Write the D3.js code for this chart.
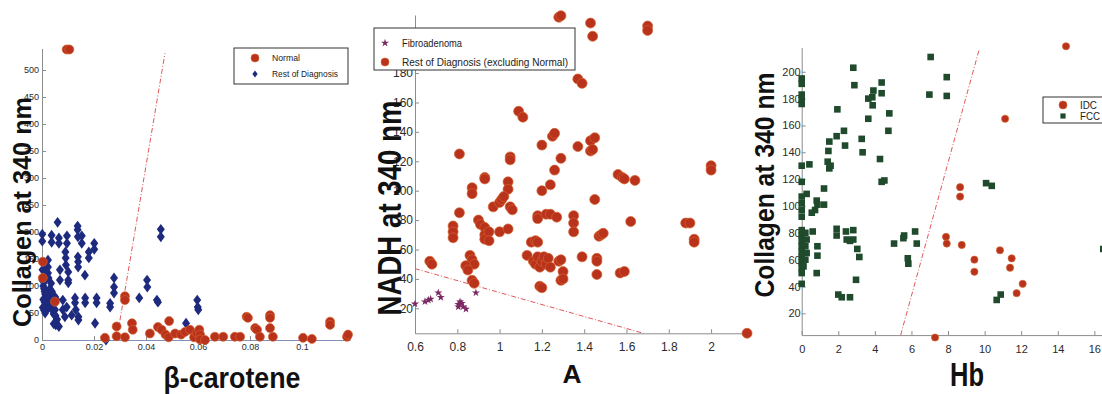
<!DOCTYPE html>
<html><head><meta charset="utf-8">
<script src="https://cdn.jsdelivr.net/npm/d3@7/dist/d3.min.js"></script>
<style>
body{margin:0;background:#fff;}
svg{display:block;}
text{font-family:Arial,"Liberation Sans",Helvetica,sans-serif;}
</style>
</head><body>
<svg id="c" width="1102" height="394"></svg>
<script>
// ---------- Panel 1: beta-carotene vs Collagen ----------
const p1XTicks = [0, 0.02, 0.04, 0.06, 0.08, 0.1];
const p1YTicks = [0, 50, 100, 150, 200, 250, 300, 350, 400, 450, 500];
const p1Normal = [[0.0095,538],[0.0105,538],[0.0003,145],[0.0003,115],[0.005,71],[0.0242,4],[0.0287,25],[0.0287,7],
  [0.0319,81],[0.0319,74],[0.0319,5],[0.0346,31],[0.0349,19],[0.0415,12],[0.0446,24],[0.046,19],[0.0475,10],
  [0.0489,35],[0.0487,5],[0.0512,12],[0.0535,10],[0.055,15],[0.0569,19],[0.0585,5],[0.0595,13],[0.0605,19],
  [0.0608,10],[0.0608,1],[0.0627,0],[0.0665,6],[0.0697,6],[0.0742,6],[0.0762,6],[0.0787,43],[0.0792,41],
  [0.082,22],[0.0827,19],[0.0838,6],[0.0877,46],[0.0877,41],[0.0877,22],[0.0888,6],[0.1004,4],[0.1038,2],
  [0.1108,34],[0.1108,28],[0.1173,6],[0.1177,10]];
const p1Rest = [[0.006,218],[0.0001,196],[0.0001,183],[0.0037,194],[0.0037,181],[0.0065,189],[0.0065,179],
  [0.0096,193],[0.0096,179],[0.0137,211],[0.0137,204],[0.0138,191],[0.0153,193],[0.0153,179],[0.0201,179],
  [0.0201,168],[0.018,163],[0.018,152],[0.009,163],[0.0091,152],[0.0092,139],[0.0138,154],[0.0139,145],
  [0.0139,135],[0.0165,120],[0.0023,148],[0.0023,135],[0.0023,124],[0.0069,130],[0.0069,111],[0.0101,126],
  [0.0101,111],[0.0101,106],[0.005,80],[0.005,56],[0.008,74],[0.008,56],[0.0095,61],[0.0127,78],[0.0127,69],
  [0.013,56],[0.014,43],[0.014,37],[0.0166,78],[0.0166,69],[0.021,78],[0.021,69],[0.0204,31],[0.0053,28],
  [0.0114,46],[0.0088,43],[0.0457,205],[0.0457,191],[0.0277,115],[0.0277,98],[0.0277,87],[0.0404,111],
  [0.0405,98],[0.0374,78],[0.0442,74],[0.0446,70],[0.0597,74],[0.0599,61],[0.0601,56],[0.0554,31],
  [0.0262,61],[0.0262,68],[0.0246,0],
  [0.0002,110],[0.0005,100],[0.0008,95],[0.001,90],[0.0012,85],[0.0015,80],[0.0005,75],[0.001,70],
  [0.0018,72],[0.002,65],[0.0025,60],[0.0008,55],[0.0012,50],[0.0003,60],[0.0022,88],[0.0028,78],
  [0.003,70],[0.0035,62],[0.004,55],[0.0045,48],[0.003,95],[0.0035,105],[0.0015,112],[0.0042,82],
  [0.0048,68],[0.0052,45],[0.0058,38],[0.0045,30],[0.0065,25],[0.0002,130],[0.0008,140],[0.0012,125],
  [0.0025,115],[0.0038,90],[0.0055,75]];
const p1Boundary = [[0.0287,0],[0.0473,531]];

// ---------- Panel 2: A vs NADH ----------
const p2XTicks = [0.6, 0.8, 1, 1.2, 1.4, 1.6, 1.8, 2];
const p2YTicks = [20, 40, 60, 80, 100, 120, 140, 160, 180];
const p2Fibro = [[0.6,23],[0.647,24.5],[0.663,25.6],[0.674,26.3],[0.71,30.6],[0.722,27.5],[0.805,22.7],
  [0.813,24.5],[0.821,23.4],[0.828,21.1],[0.841,19.5],[0.805,21],[0.888,30.6]];
const p2Rest = [[1.28,218],[1.29,219],[1.43,214],[1.44,205],[1.70,212],[1.70,209],[1.37,176],[1.39,173],
  [1.09,154],[1.11,150],[1.20,131],[1.25,137],[1.26,139],[1.37,130],[1.43,134],[1.45,136],[1.43,127],[1.44,128],
  [0.81,125],[1.05,123],[1.05,121],[1.29,122],[1.26,114],[2.0,117],[2.0,114],[0.93,109],[0.93,108],
  [1.56,111],[1.58,109],[1.59,108],[1.64,107],[1.24,104],[1.04,106],[1.04,101],[0.87,102],[0.87,98],
  [1.20,100],[0.97,89],[1.0,92],[1.01,94],[1.02,96],[1.05,89],[1.06,87],[1.45,94],[0.81,85],[1.18,83],
  [1.18,81],[1.22,84],[1.24,84],[1.27,82],[1.35,83],[1.35,78],[1.35,72],[1.62,79],[1.88,78],[1.90,78],
  [1.92,67],[1.92,65],[0.78,76],[0.78,72],[0.78,68],[0.90,80],[0.91,77],[0.93,75],[0.93,70],[0.93,67],
  [0.95,72],[0.95,66],[1.0,72],[1.04,74],[1.47,69],[1.48,70],[1.49,71],[1.15,65],[1.17,66],[1.18,65],
  [0.86,56],[0.87,53],[0.88,50],[0.84,49],[0.85,46],[0.67,52],[0.68,50],[0.87,39],[0.88,37],[1.13,56],
  [1.16,52],[1.17,50],[1.18,55],[1.19,48],[1.20,52],[1.21,55],[1.22,50],[1.23,54],[1.24,48],[1.28,52],
  [1.29,53],[1.30,45],[1.29,39],[1.30,40],[1.19,35],[1.20,34],[1.39,55],[1.46,54],[1.46,52],[1.46,43],
  [1.57,44],[1.59,45],[2.17,3]];
const p2Boundary = [[0.6,47],[1.68,3]];

// ---------- Panel 3: Hb vs Collagen ----------
const p3XTicks = [0, 2, 4, 6, 8, 10, 12, 14, 16];
const p3YTicks = [20, 40, 60, 80, 100, 120, 140, 160, 180, 200];
const p3IDC = [[14.45,219],[11.12,165],[8.66,114],[8.66,107],[7.89,77],[7.93,72],[8.75,71],[9.44,60],
  [9.44,51],[10.84,67],[11.48,61],[11.39,54],[12.08,42],[11.75,35],[7.29,2]];
const p3FCC = [[7.05,211],[6.98,183],[7.93,182],[7.93,196],[2.82,203],[2.88,190],[4.37,192],[3.92,186],
  [3.86,181],[3.64,180],[3.88,175],[4.37,184],[3.64,165],[4.79,169],[4.74,156],[1.95,172],[2.31,156],
  [1.91,152],[1.51,148],[1.46,141],[1.42,133],[1.51,128],[1.58,130],[2.37,145],[3.28,150],[3.33,140],
  [4.28,135],[4.37,118],[4.52,119],[0,195],[0,191],[0,183],[0,179],[0,176],[0,130],[0.42,131],[0,118],
  [0.27,109],[0,107],[0,102],[0,97],[0,92],[1.22,113],[1.22,101],[0.82,104],[0.86,101],[0.73,97],[0.55,95],
  [0.6,81],[0,82],[0,78],[0,74],[0,70],[0,66],[0,62],[0,58],[0,54],[0,50],[0.2,80],[0.27,75],[0.2,70],
  [0.27,65],[0.2,60],[0.1,55],[0.86,70],[0.86,63],[0.82,50],[1.91,83],[1.91,78],[2.42,81],[2.46,75],
  [2.64,74],[2.82,82],[2.82,75],[3.04,68],[3.15,62],[2.97,45],[2.0,34],[2.19,32],[2.64,32],[0,42],
  [5.05,72],[5.56,76],[5.6,78],[6.2,81],[6.29,72],[5.8,61],[5.83,57],[10.08,117],[10.39,115],
  [10.66,30],[10.88,34],[16.49,68]];
const p3Boundary = [[5.41,3.8],[9.71,217]];

// ---------- drawing ----------
const RED = "#b8321c", RED_EDGE = "#d4622f", BLUE = "#1d2a7e", GREEN = "#1f4a2c", PURPLE = "#7a2862";
const svg = d3.select("#c");
svg.append("rect").attr("width",1102).attr("height",394).attr("fill","#fff");

const diamond = "M0,-5.4L4,0L0,5.4L-4,0Z";
const star = d3.symbol(d3.symbolStar).size(20)();
const square = "M-3.3,-3.3H3.3V3.3H-3.3Z";

function drawPanel(c) {
  const x = d3.scaleLinear().domain(c.xDomain).range(c.xRange);
  const y = d3.scaleLinear().domain(c.yDomain).range(c.yRange);
  const g = svg.append("g");
  const xa = g.append("g").attr("transform", `translate(0,${c.yRange[0]})`)
    .call(d3.axisBottom(x).tickValues(c.xTicks).tickFormat(d => String(d))
      .tickSizeInner(-4).tickSizeOuter(0).tickPadding(c.xPad));
  const ya = g.append("g").attr("transform", `translate(${c.xRange[0]},0)`)
    .call(d3.axisLeft(y).tickValues(c.yTicks).tickFormat(d => String(d))
      .tickSizeInner(-4).tickSizeOuter(0).tickPadding(c.yPad));
  [xa, ya].forEach(a => {
    a.select(".domain").attr("stroke", "#8c8c8c");
    a.selectAll(".tick line").attr("stroke", "#8c8c8c");
    a.selectAll("text").attr("fill", "#2b2b2b").style("font-size", c.tickFont + "px");
  });
  xa.select(".domain").attr("stroke", c.xAxisColor || "#8c8c8c");
  // decision boundary
  g.append("path").attr("d", d3.line().x(d => x(d[0])).y(d => y(d[1]))(c.boundary))
    .attr("stroke", "#e0585a").attr("stroke-width", 1).attr("fill", "none")
    .attr("stroke-dasharray", "5,2,1,2");
  c.series.forEach(s => {
    const sel = g.append("g").selectAll("path").data(s.data).join("path")
      .attr("transform", d => `translate(${x(d[0])},${y(d[1])})`)
      .attr("fill", s.color);
    if (s.shape === "circle") sel.attr("d", d3.symbol(d3.symbolCircle).size(Math.PI * s.r * s.r)()).attr("stroke", RED_EDGE).attr("stroke-width", 0.7);
    else if (s.shape === "diamond") sel.attr("d", diamond);
    else if (s.shape === "star") sel.attr("d", star);
    else sel.attr("d", square);
  });
  // axis titles
  g.append("text").text(c.yLabel)
    .attr("transform", `translate(${c.yLabelPos[0]},${c.yLabelPos[1]}) rotate(-90)`)
    .attr("text-anchor", "middle").attr("dy", "0.35em")
    .attr("font-weight", "bold").attr("font-size", c.yLabelFont)
    .attr("textLength", c.yLabelLen).attr("lengthAdjust", "spacingAndGlyphs").attr("fill", "#111");
  g.append("text").text(c.xLabel)
    .attr("x", c.xLabelPos[0]).attr("y", c.xLabelPos[1])
    .attr("text-anchor", "middle").attr("font-weight", "bold").attr("font-size", c.xLabelFont)
    .attr("textLength", c.xLabelLen).attr("lengthAdjust", "spacingAndGlyphs").attr("fill", "#111");
  // legend
  const L = c.legend;
  const lg = g.append("g");
  lg.append("rect").attr("x", L.x).attr("y", L.y).attr("width", L.w).attr("height", L.h)
    .attr("fill", "#fff").attr("stroke", "#333").attr("stroke-width", 1);
  L.items.forEach((it, i) => {
    const s = c.series[it.series];
    const cy = L.y + L.first + i * L.step;
    const m = lg.append("path").attr("transform", `translate(${L.x + L.mx},${cy})`).attr("fill", s.color);
    if (s.shape === "circle") m.attr("d", d3.symbol(d3.symbolCircle).size(Math.PI * 16)()).attr("stroke", RED_EDGE).attr("stroke-width", 0.7);
    else if (s.shape === "diamond") m.attr("d", "M0,-3.6L2.6,0L0,3.6L-2.6,0Z");
    else if (s.shape === "star") m.attr("d", star);
    else m.attr("d", "M-2.6,-2.6H2.6V2.6H-2.6Z");
    lg.append("text").text(it.label).attr("x", L.x + L.tx).attr("y", cy).attr("dy", "0.35em")
      .attr("font-size", L.font).attr("fill", "#222")
      .attr("textLength", it.len).attr("lengthAdjust", "spacingAndGlyphs");
  });
}

drawPanel({
  xDomain: [0, 0.1185], xRange: [42, 350.1], yDomain: [0, 540], yRange: [340, 48.4],
  xTicks: p1XTicks, yTicks: p1YTicks, xPad: 4, yPad: 3, tickFont: 9, xAxisColor: "#8391b8",
  boundary: p1Boundary,
  series: [
    {data: p1Rest, shape: "diamond", color: BLUE},
    {data: p1Normal, shape: "circle", color: RED, r: 4.5}
  ],
  yLabel: "Collagen at 340 nm", yLabelPos: [22, 212], yLabelFont: 25, yLabelLen: 230,
  xLabel: "β-carotene", xLabelPos: [232, 388], xLabelFont: 29, xLabelLen: 137,
  legend: {x: 234, y: 48, w: 114, h: 36, first: 10, step: 16, mx: 21, tx: 38, font: 9,
    items: [{series: 1, label: "Normal", len: 28}, {series: 0, label: "Rest of Diagnosis", len: 66}]}
});

drawPanel({
  xDomain: [0.6, 2.185], xRange: [415, 750.2], yDomain: [3, 219.5], yRange: [333.3, 15],
  xTicks: p2XTicks, yTicks: p2YTicks, xPad: 9, yPad: 2, tickFont: 12,
  boundary: p2Boundary,
  series: [
    {data: p2Fibro, shape: "star", color: PURPLE},
    {data: p2Rest, shape: "circle", color: RED, r: 5}
  ],
  yLabel: "NADH at 340 nm", yLabelPos: [389, 208], yLabelFont: 34, yLabelLen: 215,
  xLabel: "A", xLabelPos: [572, 383], xLabelFont: 26, xLabelLen: 19,
  legend: {x: 374, y: 28, w: 201, h: 42, first: 15, step: 19, mx: 11, tx: 28, font: 10,
    items: [{series: 0, label: "Fibroadenoma", len: 60}, {series: 1, label: "Rest of Diagnosis (excluding Normal)", len: 166}]}
});

drawPanel({
  xDomain: [0, 17.5], xRange: [801.7, 1121.8], yDomain: [3.8, 218], yRange: [335.1, 47.6],
  xTicks: p3XTicks, yTicks: p3YTicks, xPad: 10, yPad: 1, tickFont: 11,
  boundary: p3Boundary,
  series: [
    {data: p3FCC, shape: "square", color: GREEN},
    {data: p3IDC, shape: "circle", color: RED, r: 3.6}
  ],
  yLabel: "Collagen at 340 nm", yLabelPos: [765, 185], yLabelFont: 27, yLabelLen: 225,
  xLabel: "Hb", xLabelPos: [967, 386], xLabelFont: 33, xLabelLen: 34,
  legend: {x: 1043, y: 97, w: 70, h: 26, first: 8, step: 11, mx: 20, tx: 37, font: 10,
    items: [{series: 1, label: "IDC", len: 17}, {series: 0, label: "FCC", len: 20}]}
});
</script>
</body></html>
